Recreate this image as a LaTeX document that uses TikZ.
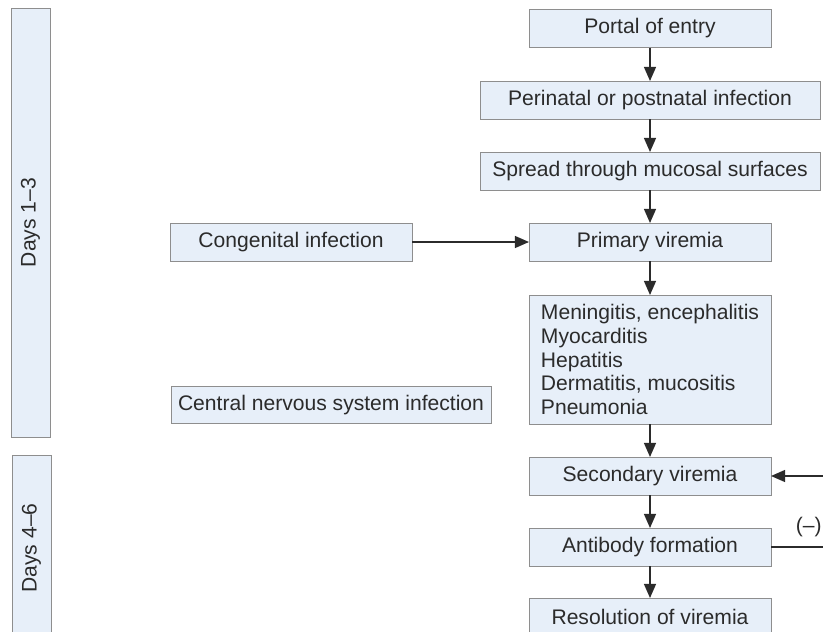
\documentclass[tikz,border=0pt]{standalone}
\usepackage{fontspec}
\setmainfont{Liberation Sans}
\usetikzlibrary{arrows.meta}
\definecolor{cellfill}{HTML}{E7EFF9}
\definecolor{celldraw}{HTML}{8E8E8E}
\definecolor{inkgray}{HTML}{2B2B2B}
\newcommand*\pxu   {0.025cm}
\newcommand*\cellwd{242*\pxu}
\newcommand*\cellht{38*\pxu}
\tikzset{
    cell/.style     = {draw=celldraw, fill=cellfill, line width=0.6pt,
                      minimum width=\cellwd, minimum height=\cellht,
                      inner sep=0pt, outer sep=0pt, text=inkgray,
                      font=\fontsize{15}{16.9}\selectfont},
    widecell/.style = {cell, minimum width=340*\pxu},
    cnscell/.style  = {cell, minimum width=320*\pxu},
    listcell/.style = {cell, align=left, minimum height=129*\pxu},
    daycell/.style  = {cell, rotate=90, minimum height=39*\pxu},
    flow/.style     = {draw=inkgray, line width=1.05pt,
                      -{Triangle[length=10pt,width=8.5pt]}},
    plain/.style    = {draw=inkgray, line width=1.05pt},
  }

\begin{document}
\begin{tikzpicture}[x=\pxu, y=-\pxu]
    % picture frame, 823 x 632 px
    \clip (0,0) rectangle (823,632);

    % day bands on the left
    \node[daycell, minimum width=429*\pxu] (days13) at (30.5,222.5) {Days 1--3};
    \node[daycell, minimum width=186*\pxu] (days46) at (31.5,548) {Days 4--6};

    % main column
    \node[cell]     (portal)     at (650,28.5) {Portal of entry};
    \node[widecell] (perinatal)  at (650,100)  {Perinatal or postnatal infection};
    \node[widecell] (spread)     at (650,171)  {Spread through mucosal surfaces};
    \node[cell]     (primary)    at (650,242)  {Primary viremia};
    \node[listcell] (organs)     at (650,359.5)
        {Meningitis, encephalitis\\Myocarditis\\Hepatitis\\Dermatitis, mucositis\\Pneumonia};
    \node[cell]     (secondary)  at (650,476)  {Secondary viremia};
    \node[cell]     (antibody)   at (650,547)  {Antibody formation};
    \node[cell]     (resolution) at (650,617)  {Resolution of viremia};

    % side boxes
    \node[cell]    (congenital) at (291,242) {Congenital infection};
    \node[cnscell, minimum height=37*\pxu] (cns) at (331,405) {Central nervous system infection};

    % arrows down the column
    \foreach \a/\b in {portal/perinatal, perinatal/spread, spread/primary,
                       primary/organs, organs/secondary, secondary/antibody,
                       antibody/resolution} {
        \draw[flow] (\a) -- (\b);
    }
    \draw[flow] (congenital) -- (primary);

    % feedback on the right edge
    \coordinate (fbin)  at (845,476);
    \coordinate (fbout) at (845,547);
    \draw[flow]  (fbin) -- (secondary);
    \draw[plain] (antibody) -- (fbout);
    \node[anchor=east, inner sep=0pt, text=inkgray,
          font=\fontsize{15}{16.9}\selectfont] (minus) at (822,527) {(--)};
\end{tikzpicture}
\end{document}
